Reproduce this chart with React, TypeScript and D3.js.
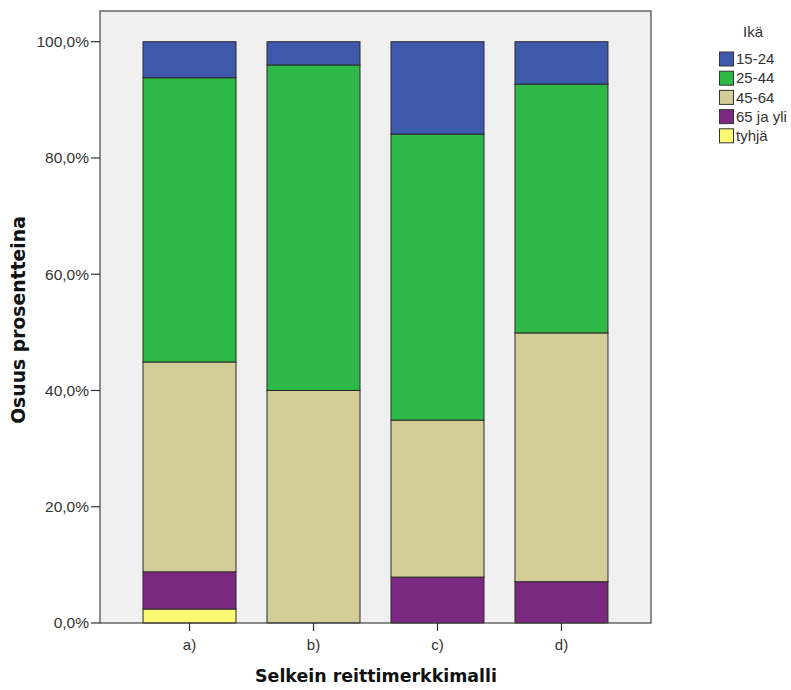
import React from "react";
import * as d3 from "d3";

const categories = ["a)", "b)", "c)", "d)"];
const seriesNames = ["tyhjä", "65 ja yli", "45-64", "25-44", "15-24"];
const tyhja = [2.4, 0, 0, 0];
const yli65 = [6.4, 0, 7.9, 7.1];
const age4564 = [36.1, 40.0, 27.0, 42.8];
const age2544 = [48.9, 56.0, 49.2, 42.8];
const age1524 = [6.2, 4.0, 15.9, 7.3];
const yTicks = [0, 20, 40, 60, 80, 100];
const legendOrder = ["15-24", "25-44", "45-64", "65 ja yli", "tyhjä"];
const colors: Record<string, string> = {
  "15-24": "#3e58ac",
  "25-44": "#2eb848",
  "45-64": "#d3ce97",
  "65 ja yli": "#7a2880",
  "tyhjä": "#fbf873",
};

export default function App() {
  const W = 791, H = 690;
  const left = 100, right = 651, top = 11, bottom = 623;
  const rows = categories.map((c, i) => ({
    cat: c,
    "tyhjä": tyhja[i],
    "65 ja yli": yli65[i],
    "45-64": age4564[i],
    "25-44": age2544[i],
    "15-24": age1524[i],
  }));
  const stack = d3.stack<any>().keys(seriesNames)(rows);
  const x = d3.scaleBand().domain(categories).range([left, right]).paddingInner(0.25).paddingOuter(0.347);
  const y = d3.scaleLinear().domain([0, 100]).range([bottom, bottom - 581.3]);
  const font = "'Liberation Sans', Arial, sans-serif";
  const fmt = (v: number) => v.toFixed(1).replace(".", ",") + "%";
  return (
    <svg width={W} height={H} style={{ position: "absolute", left: 0, top: 0 }}>
      <rect x={0} y={0} width={W} height={H} fill="#fff" />
      <rect x={left} y={top} width={right - left} height={bottom - top} fill="#f0f0f0" />
      {stack.map((s) =>
        s.map((d: any, i: number) => {
          const h = y(d[0]) - y(d[1]);
          if (h <= 0.01) return null;
          return (
            <rect
              key={s.key + i}
              x={x(categories[i])!}
              y={y(d[1])}
              width={x.bandwidth()}
              height={h}
              fill={colors[s.key]}
              stroke="#2a2a2a"
              strokeWidth={1}
            />
          );
        })
      )}
      <rect x={left} y={top} width={right - left} height={bottom - top} fill="none" stroke="#444" strokeWidth={1.2} />
      {yTicks.map((t) => (
        <g key={t}>
          <line x1={left - 9} x2={left} y1={y(t)} y2={y(t)} stroke="#333" strokeWidth={1.2} />
          <text x={left - 11} y={y(t)} dy="0.35em" textAnchor="end" fontFamily={font} fontSize={15.5} fill="#333">
            {fmt(t)}
          </text>
        </g>
      ))}
      {categories.map((c) => (
        <g key={c}>
          <line x1={x(c)! + x.bandwidth() / 2} x2={x(c)! + x.bandwidth() / 2} y1={bottom} y2={bottom + 8} stroke="#333" strokeWidth={1.2} />
          <text x={x(c)! + x.bandwidth() / 2} y={bottom + 22} dy="0.35em" textAnchor="middle" fontFamily={font} fontSize={15} fill="#333">
            {c}
          </text>
        </g>
      ))}
      <text x={376} y={676} dy="0.35em" textAnchor="middle" fontFamily="'DejaVu Sans', sans-serif" fontWeight="bold" fontSize={17.4} fill="#111">
        Selkein reittimerkkimalli
      </text>
      <text transform="translate(18,320) rotate(-90)" dy="0.35em" textAnchor="middle" fontFamily="'DejaVu Sans', sans-serif" fontWeight="bold" fontSize={18.8} fill="#111">
        Osuus prosentteina
      </text>
      <text x={753} y={37} textAnchor="middle" fontFamily={font} fontSize={15} fill="#333">Ikä</text>
      {legendOrder.map((k, i) => (
        <g key={k}>
          <rect x={719.5} y={52 + i * 19.2} width={14} height={14} fill={colors[k]} stroke="#333" strokeWidth={1} />
          <text x={736} y={59 + i * 19.2} dy="0.35em" fontFamily={font} fontSize={15} fill="#333">{k}</text>
        </g>
      ))}
    </svg>
  );
}
